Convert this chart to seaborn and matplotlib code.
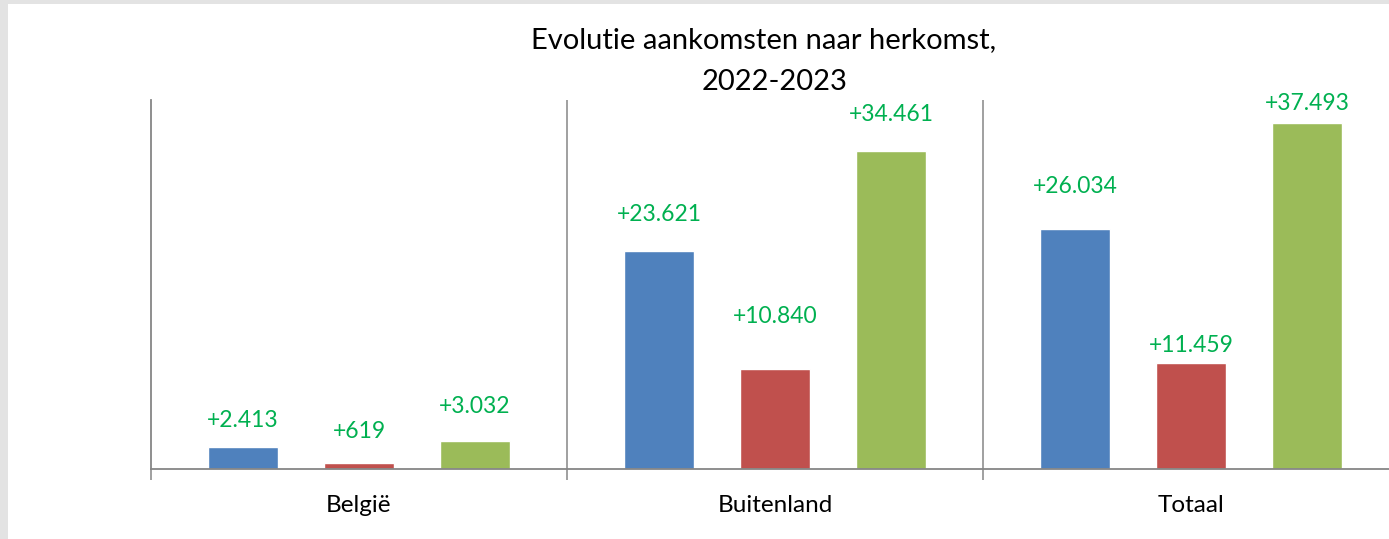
import matplotlib
matplotlib.use("Agg")
import matplotlib.pyplot as plt
import seaborn as sns
import pandas as pd
from matplotlib.patches import Rectangle
from matplotlib.ticker import FixedLocator

categories = ["België", "Buitenland", "Totaal"]
series = ["reeks 1", "reeks 2", "reeks 3"]
values_1 = [2413, 23621, 26034]
values_2 = [619, 10840, 11459]
values_3 = [3032, 34461, 37493]

# label offsets above bar tops (pixels), as placed in the original
label_offsets = [[26, 37, 42], [32, 53, 18], [35, 37, 20]]

colors = ["#4f81bd", "#c0504d", "#9bbb59"]
grey = "#868686"
W, H = 1389, 539

df = pd.DataFrame({
    "herkomst": categories * 3,
    "reeks": [s for s in series for _ in categories],
    "aantal": values_1 + values_2 + values_3,
})

sns.set_style("white")
plt.rcParams["font.family"] = ["Lato", "DejaVu Sans"]

fig = plt.figure(figsize=(W / 100, H / 100), dpi=100, facecolor="white")
# grey frame strips (left and top) like the source screenshot
fig.patches.append(Rectangle((0, 0), 8 / W, 1, transform=fig.transFigure,
                             facecolor="#e3e3e3", edgecolor="none"))
fig.patches.append(Rectangle((0, 1 - 4 / H), 1, 4 / H, transform=fig.transFigure,
                             facecolor="#e3e3e3", edgecolor="none"))

ax = fig.add_axes([151 / W, 1 - 469 / H, 1248 / W, 369 / H])

sns.barplot(data=df, x="herkomst", y="aantal", hue="reeks", palette=colors,
            width=0.837, gap=0.4, legend=False, saturation=1, ax=ax)

for cont, offs in zip(ax.containers, label_offsets):
    for bar, off in zip(cont, offs):
        h = bar.get_height()
        ax.annotate(f"+{h:,.0f}".replace(",", "."),
                    (bar.get_x() + bar.get_width() / 2, h),
                    xytext=(0, off * 0.72), textcoords="offset points",
                    ha="center", va="center", color="#00b050", fontsize=16.5,
                    annotation_clip=False)

ax.set_xlim(-0.5, 2.5)
ax.set_ylim(0, 40000)
ax.set_yticks([])
ax.set_xlabel("")
ax.set_ylabel("")

for x in [0.5, 1.5]:
    ax.axvline(x, color=grey, lw=1.1, zorder=0)

for side in ["top", "right"]:
    ax.spines[side].set_visible(False)
for side in ["left", "bottom"]:
    ax.spines[side].set_color(grey)
    ax.spines[side].set_linewidth(1.3)

ax.xaxis.set_minor_locator(FixedLocator([-0.5, 0.5, 1.5, 2.5]))
ax.tick_params(axis="x", which="minor", bottom=True, length=8, width=1.1, color=grey)
ax.tick_params(axis="x", which="major", length=0, pad=19, labelsize=17.5, labelcolor="black")

fig.text(764 / W, 1 - 48 / H, "Evolutie aankomsten naar herkomst,",
         ha="center", va="baseline", fontsize=21, color="black")
fig.text(775 / W, 1 - 90 / H, "2022-2023",
         ha="center", va="baseline", fontsize=21, color="black")

fig.savefig("out.png", dpi=100, facecolor=fig.get_facecolor())
